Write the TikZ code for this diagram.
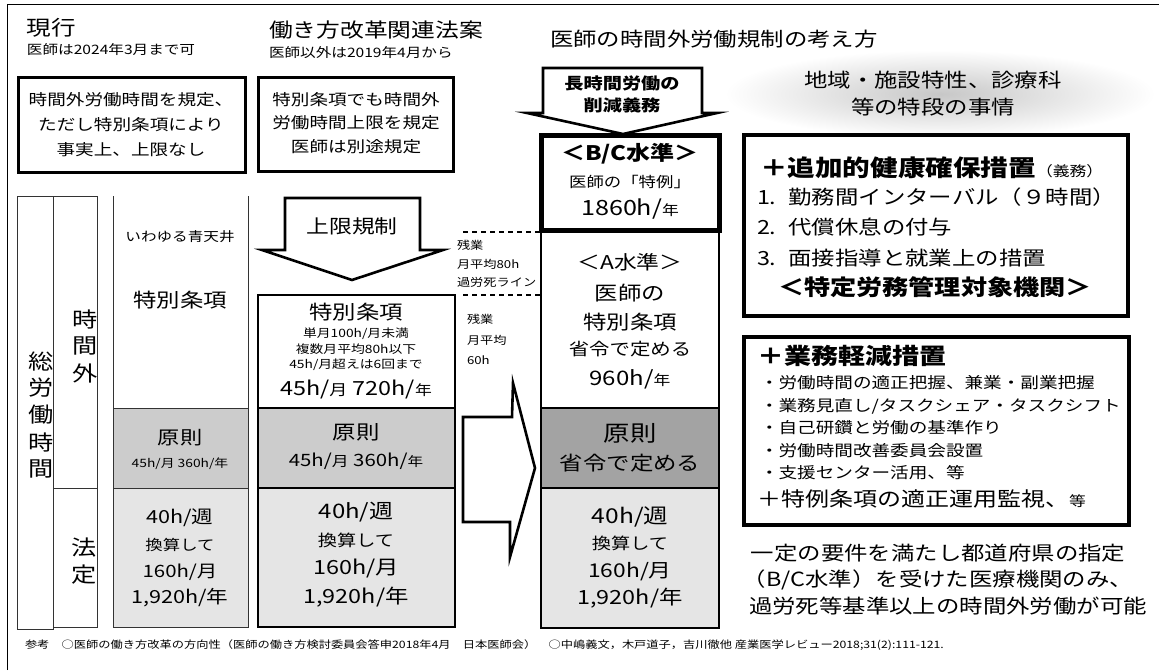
\documentclass[tikz,border=0pt]{standalone}
\usepackage{fontspec}
\setmainfont[FakeStretch=1.2]{Noto Sans CJK JP}
\newcommand\fsz[1]{\fontsize{#1}{#1}\selectfont}
\definecolor{gA}{gray}{0.80}
\definecolor{gB}{gray}{0.90}
\definecolor{gC}{gray}{0.64}
\tikzset{
  t/.style={inner sep=0pt, outer sep=0pt},
  tl/.style={inner sep=0pt, outer sep=0pt, anchor=west},
  thinline/.style={draw=black!80, line width=0.9pt},
  midline/.style={draw=black, line width=1.6pt},
  heavybox/.style={draw=black, line width=3pt},
  blockarrow/.style={draw=black, line width=2.6pt, fill=white, line join=miter},
  dashline/.style={draw=black, line width=1.4pt, dash pattern=on 5pt off 4pt}
}
\begin{document}
\begin{tikzpicture}[x=1pt,y=-1pt]
\useasboundingbox (0,0) rectangle (1159,670);
\draw[line width=1pt] (7,670) -- (7,4) -- (1159,4);

% ---------- titles
\node[tl] (tA)  at (27,28) {\fsz{20.5}現行};
\node[tl] (tAs) at (27,50) {\fsz{13}医師は2024年3月まで可};
\node[tl] (tB)  at (269,30) {\fsz{19.8}働き方改革関連法案};
\node[tl] (tBs) at (269,53) {\fsz{13}医師以外は2019年4月から};
\node[tl] (tC)  at (550,39) {\fsz{19.5}医師の時間外労働規制の考え方};

% ---------- top boxes
\draw[heavybox] (18,77) rectangle (245,172);
\node[t] (b1a) at (131,100) {\fsz{15.5}時間外労働時間を規定、};
\node[t] (b1b) at (131,125) {\fsz{15.5}ただし特別条項により};
\node[t] (b1c) at (131,150) {\fsz{15.5}事実上、上限なし};
\draw[heavybox] (258,77) rectangle (453,171);
\node[t] (b2a) at (356,100) {\fsz{15.5}特別条項でも時間外};
\node[t] (b2b) at (356,123) {\fsz{15.5}労働時間上限を規定};
\node[t] (b2c) at (356,147) {\fsz{15.5}医師は別途規定};

% ---------- left label columns
\draw[thinline] (17,196) rectangle (53,629);
\draw[thinline] (53,196) rectangle (97,627);
\draw[thinline] (53,488) -- (97,488);
\node[t] (v1) at (41,361) {\fsz{21}総};
\node[t] (v2) at (41,388) {\fsz{21}労};
\node[t] (v3) at (41,415) {\fsz{21}働};
\node[t] (v4) at (41,442) {\fsz{21}時};
\node[t] (v5) at (41,469) {\fsz{21}間};
\node[t] (w1) at (85,319) {\fsz{21}時};
\node[t] (w2) at (85,346) {\fsz{21}間};
\node[t] (w3) at (85,373) {\fsz{21}外};
\node[t] (x1) at (84,548) {\fsz{21}法};
\node[t] (x2) at (84,575) {\fsz{21}定};

% ---------- column 3 (current)
\fill[gA] (113,408) rectangle (248,488);
\fill[gB] (113,488) rectangle (248,627);
\draw[thinline] (113,196) -- (113,627) -- (248,627) -- (248,196);
\draw[thinline] (113,408) -- (248,408);
\draw[thinline] (113,488) -- (248,488);
\node[t] (c3a) at (180,237) {\fsz{13}いわゆる青天井};
\node[t] (c3b) at (180,300) {\fsz{19.5}特別条項};
\node[t] (c3c) at (180,438) {\fsz{18.5}原則};
\node[t] (c3d) at (180,464) {\fsz{11.5}45h/月 360h/年};
\node[t] (c3e) at (180,518) {\fsz{18}40h/週};
\node[t] (c3f) at (180,545) {\fsz{14.5}換算して};
\node[t] (c3g) at (180,572) {\fsz{17}160h/月};
\node[t] (c3h) at (180,598) {\fsz{18}1,920h/年};

% ---------- column 4 (bill)
\fill[white] (258,295) rectangle (455,408);
\fill[gA] (258,408) rectangle (455,488);
\fill[gB] (258,488) rectangle (455,627);
\draw[midline] (258,295) rectangle (455,627);
\draw[midline] (258,408) -- (455,408);
\draw[midline] (258,488) -- (455,488);
\node[t] (c4a) at (356,312) {\fsz{19.5}特別条項};
\node[t] (c4b) at (356,334) {\fsz{11.5}単月100h/月未満};
\node[t] (c4c) at (356,349) {\fsz{11.5}複数月平均80h以下};
\node[t] (c4d) at (356,365) {\fsz{11.5}45h/月超えは6回まで};
\node[t] (c4e) at (356,389) {\fsz{19.5}45h/{\fsz{15}月} 720h/{\fsz{14}年}};
\node[t] (c4f) at (356,432) {\fsz{19.5}原則};
\node[t] (c4g) at (356,461) {\fsz{17}45h/{\fsz{14}月} 360h/{\fsz{13}年}};
\node[t] (c4h) at (356,512) {\fsz{20}40h/週};
\node[t] (c4i) at (356,540) {\fsz{16}換算して};
\node[t] (c4j) at (356,568) {\fsz{19.5}160h/月};
\node[t] (c4k) at (356,597) {\fsz{19.5}1,920h/年};

% ---------- arrow 上限規制
\draw[blockarrow] (285,198) -- (420,198) -- (420,250) -- (443,250) -- (352,280) -- (262,250) -- (285,250) -- cycle;
\node[t] (aU) at (352,226) {\fsz{19}上限規制};

% ---------- dashed lines and notes
\coordinate (d1a) at (463,232);
\coordinate (d1b) at (541,232);
\coordinate (d2a) at (463,295);
\coordinate (d2b) at (541,295);
\draw[dashline] (d1a) -- (d1b);
\draw[dashline] (d2a) -- (d2b);
\node[tl] (n1) at (457,245) {\fsz{11}残業};
\node[tl] (n2) at (457,264) {\fsz{11}月平均80h};
\node[tl] (n3) at (457,282) {\fsz{11}過労死ライン};
\node[tl] (n4) at (467,319) {\fsz{11}残業};
\node[tl] (n5) at (467,340) {\fsz{11}月平均};
\node[tl] (n6) at (467,360) {\fsz{11}60h};

% ---------- big right arrow
\draw[blockarrow] (463,417) -- (512,417) -- (513,383) -- (535,468) -- (510,557) -- (510,522) -- (463,522) -- cycle;

% ---------- column 5 (doctors)
\fill[white] (541,230) rectangle (719,408);
\fill[gC] (541,408) rectangle (719,488);
\fill[gB] (541,488) rectangle (719,628);
\draw[midline] (541,230) rectangle (719,628);
\draw[midline] (541,408) -- (719,408);
\draw[midline] (541,488) -- (719,488);
\draw[draw=black, line width=5pt] (541,135) rectangle (719,230);
\node[t] (c5a) at (630,154) {\fsz{20}\bfseries ＜B/C水準＞};
\node[t] (c5b) at (630,182) {\fsz{14.5}医師の「特例」};
\node[t] (c5c) at (630,209) {\fsz{21}1860h/{\fsz{14}年}};
\node[t] (c5d) at (630,262) {\fsz{19}＜A水準＞};
\node[t] (c5e) at (630,293) {\fsz{19.5}医師の};
\node[t] (c5f) at (630,322) {\fsz{19.5}特別条項};
\node[t] (c5g) at (630,349) {\fsz{17}省令で定める};
\node[t] (c5h) at (630,379) {\fsz{20}960h/{\fsz{14}年}};
\node[t] (c5i) at (630,433) {\fsz{22}原則};
\node[t] (c5j) at (630,463) {\fsz{19.5}省令で定める};
\node[t] (c5k) at (630,517) {\fsz{20.5}40h/週};
\node[t] (c5l) at (630,543) {\fsz{16}換算して};
\node[t] (c5m) at (630,572) {\fsz{19}160h/月};
\node[t] (c5n) at (630,598) {\fsz{19.5}1,920h/年};

% ---------- arrow 長時間労働の削減義務
\draw[blockarrow] (543,68) -- (702,68) -- (702,113) -- (717,113) -- (623,134) -- (527,113) -- (543,113) -- cycle;
\node[t] (aN1) at (622,83) {\fsz{16}\bfseries 長時間労働の};
\node[t] (aN2) at (622,105) {\fsz{16}\bfseries 削減義務};

% ---------- right column
\shade[inner color=black!22, outer color=white] (940,94) ellipse (215 and 44);
\node[t] (r0a) at (933,80) {\fsz{19.5}地域・施設特性、診療科};
\node[t] (r0b) at (933,107) {\fsz{19.5}等の特段の事情};

\draw[draw=black, line width=4.5pt] (744,135) rectangle (1128,316);
\node[tl] (r1a) at (760,168) {\fsz{23}\bfseries ＋追加的健康確保措置{\mdseries\fsz{14}（義務）}};
\node[tl] (r1b) at (757,197) {\fsz{19.5}1.\hspace{12pt}勤務間インターバル（９時間）};
\node[tl] (r1c) at (757,227) {\fsz{19.5}2.\hspace{12pt}代償休息の付与};
\node[tl] (r1d) at (757,258) {\fsz{19.5}3.\hspace{12pt}面接指導と就業上の措置};
\node[tl] (r1e) at (778,287) {\fsz{21.8}\bfseries ＜特定労務管理対象機関＞};

\draw[draw=black, line width=4pt] (744,337) rectangle (1129,525);
\node[tl] (r2a) at (757,356) {\fsz{22.5}\bfseries ＋業務軽減措置};
\node[tl] (r2b) at (760,383) {\fsz{15.5}・労働時間の適正把握、兼業・副業把握};
\node[tl] (r2c) at (760,406) {\fsz{15.5}・業務見直し/タスクシェア・タスクシフト};
\node[tl] (r2d) at (760,428) {\fsz{15.5}・自己研鑽と労働の基準作り};
\node[tl] (r2e) at (760,451) {\fsz{15.5}・労働時間改善委員会設置};
\node[tl] (r2f) at (760,473) {\fsz{15.5}・支援センター活用、等};
\node[tl] (r2g) at (757,499) {\fsz{20}＋特例条項の適正運用監視、{\fsz{14}等}};

\node[t] (r3a) at (938,553) {\fsz{19.5}一定の要件を満たし都道府県の指定};
\node[t] (r3b) at (938,580) {\fsz{19.5}（B/C水準）を受けた医療機関のみ、};
\node[t] (r3c) at (948,606) {\fsz{19.5}過労死等基準以上の時間外労働が可能};

% ---------- footer
\node[tl] (ft) at (25,645) {\fsz{10.2}参考　○医師の働き方改革の方向性（医師の働き方検討委員会答申2018年4月　日本医師会）　○中嶋義文，木戸道子，吉川徹他 産業医学レビュー2018;31(2):111-121.};
\end{tikzpicture}
\end{document}
